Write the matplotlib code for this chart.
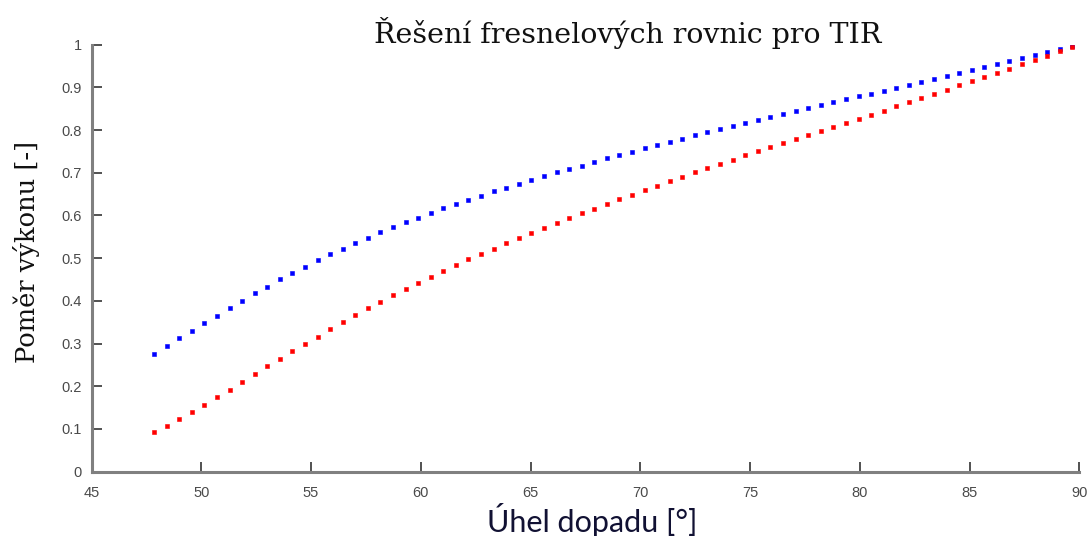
import matplotlib
matplotlib.use("Agg")
import matplotlib.pyplot as plt

angles = [47.85, 48.42, 49.00, 49.57, 50.14, 50.71, 51.29, 51.86, 52.43, 53.01,
          53.58, 54.15, 54.73, 55.30, 55.87, 56.44, 57.02, 57.59, 58.16, 58.74,
          59.31, 59.88, 60.46, 61.03, 61.60, 62.17, 62.75, 63.32, 63.89, 64.47,
          65.04, 65.61, 66.19, 66.76, 67.33, 67.90, 68.48, 69.05, 69.62, 70.20,
          70.77, 71.34, 71.91, 72.49, 73.06, 73.63, 74.21, 74.78, 75.35, 75.93,
          76.50, 77.07, 77.64, 78.22, 78.79, 79.36, 79.94, 80.51, 81.08, 81.66,
          82.23, 82.80, 83.37, 83.95, 84.52, 85.09, 85.67, 86.24, 86.81, 87.38,
          87.96, 88.53, 89.10, 89.68]

blue_vals = [0.276, 0.294, 0.312, 0.330, 0.348, 0.365, 0.383, 0.400, 0.418, 0.433,
             0.451, 0.466, 0.480, 0.495, 0.509, 0.522, 0.536, 0.548, 0.561, 0.572,
             0.584, 0.594, 0.606, 0.617, 0.627, 0.636, 0.646, 0.657, 0.665, 0.674,
             0.683, 0.692, 0.701, 0.709, 0.717, 0.725, 0.734, 0.742, 0.749, 0.757,
             0.766, 0.772, 0.780, 0.788, 0.795, 0.802, 0.809, 0.817, 0.824, 0.831,
             0.838, 0.845, 0.851, 0.859, 0.866, 0.872, 0.879, 0.885, 0.892, 0.899,
             0.906, 0.913, 0.919, 0.927, 0.934, 0.941, 0.947, 0.954, 0.961, 0.968,
             0.975, 0.982, 0.990, 0.996]

red_vals = [0.093, 0.107, 0.123, 0.139, 0.156, 0.174, 0.191, 0.210, 0.228, 0.247,
            0.265, 0.282, 0.300, 0.316, 0.334, 0.350, 0.367, 0.383, 0.397, 0.413,
            0.428, 0.442, 0.457, 0.470, 0.483, 0.497, 0.510, 0.522, 0.536, 0.547,
            0.558, 0.571, 0.582, 0.593, 0.605, 0.616, 0.628, 0.638, 0.649, 0.660,
            0.670, 0.680, 0.690, 0.701, 0.711, 0.721, 0.731, 0.741, 0.750, 0.760,
            0.770, 0.780, 0.789, 0.798, 0.808, 0.817, 0.827, 0.836, 0.845, 0.856,
            0.866, 0.876, 0.885, 0.895, 0.905, 0.915, 0.924, 0.934, 0.944, 0.954,
            0.964, 0.974, 0.985, 0.994]

x_ticks = [45, 50, 55, 60, 65, 70, 75, 80, 85, 90]
y_ticks = [0, 0.1, 0.2, 0.3, 0.4, 0.5, 0.6, 0.7, 0.8, 0.9, 1]
y_tick_labels = ["0", "0.1", "0.2", "0.3", "0.4", "0.5", "0.6", "0.7", "0.8", "0.9", "1"]

title_text = "Řešení fresnelových rovnic pro TIR"
xlabel_text = "Úhel dopadu [°]"
ylabel_text = "Poměr výkonu [-]"

fig = plt.figure(figsize=(10.91, 5.36), dpi=100)
ax = fig.add_axes([0.0839, 0.12, 0.9054, 0.7966])

ax.plot(angles, blue_vals, linestyle="none", marker="s", markersize=2.2,
        color=(0, 0, 1), markeredgewidth=0.4)
ax.plot(angles, red_vals, linestyle="none", marker="s", markersize=2.2,
        color=(1, 0, 0), markeredgewidth=0.4)

ax.set_xlim(45, 90)
ax.set_ylim(0, 1)
ax.set_xticks(x_ticks)
ax.set_yticks(y_ticks)
ax.set_yticklabels(y_tick_labels)

for s in ["top", "right"]:
    ax.spines[s].set_visible(False)
for s in ["left", "bottom"]:
    ax.spines[s].set_color("#808080")
    ax.spines[s].set_linewidth(2.2)

ax.tick_params(direction="in", length=7, width=1.1, color="#222222",
               labelsize=10.5, labelcolor="#4a4a4a")
ax.tick_params(axis="x", pad=10)
ax.tick_params(axis="y", pad=7)
for lab in ax.get_xticklabels() + ax.get_yticklabels():
    lab.set_fontfamily("Liberation Sans")

fig.text(0.575, 0.938, title_text, ha="center", va="center",
         fontsize=20.5, family="DejaVu Serif", color="#111111")
fig.text(0.543, 0.03, xlabel_text, ha="center", va="center",
         fontsize=22, family="Lato", color="#111133")
fig.text(0.024, 0.53, ylabel_text, ha="center", va="center", rotation=90,
         fontsize=18.5, family="DejaVu Serif", color="#111111")

fig.savefig("out.png", dpi=100)
